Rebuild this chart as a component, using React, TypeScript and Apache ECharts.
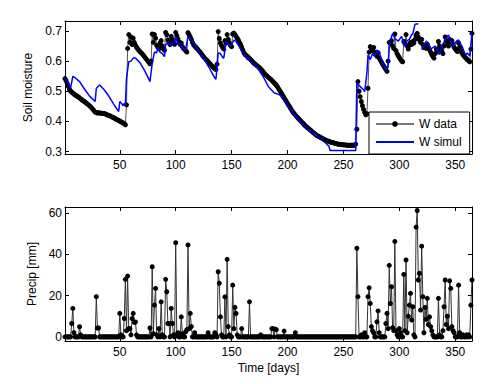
import React, { useEffect, useRef } from "react";
import * as echarts from "echarts";

// ---------- data ----------
const xTicks = [50, 100, 150, 200, 250, 300, 350];
const soilTicks = [0.3, 0.4, 0.5, 0.6, 0.7];
const precipTicks = [0, 20, 40, 60];

// Observed soil moisture, one value per day (day 1..365)
const wData = [
  // 1-55
  0.542, 0.535, 0.526, 0.516, 0.507, 0.501, 0.497, 0.494, 0.491, 0.488,
  0.486, 0.483, 0.481, 0.478, 0.475, 0.472, 0.469, 0.467, 0.464, 0.461,
  0.458, 0.455, 0.452, 0.448, 0.444, 0.440, 0.435, 0.431, 0.429, 0.428,
  0.429, 0.428, 0.427, 0.427, 0.426, 0.426, 0.425, 0.423, 0.421, 0.420,
  0.419, 0.417, 0.415, 0.413, 0.411, 0.409, 0.407, 0.405, 0.403, 0.401,
  0.399, 0.397, 0.395, 0.392, 0.389,
  // 56-78
  0.455, 0.642, 0.688, 0.662, 0.680, 0.655, 0.676, 0.662, 0.653, 0.646,
  0.641, 0.636, 0.632, 0.628, 0.624, 0.620, 0.615, 0.610, 0.606, 0.601,
  0.596, 0.591, 0.600,
  // 79-110
  0.690, 0.662, 0.688, 0.676, 0.652, 0.646, 0.641, 0.660, 0.668, 0.650,
  0.640, 0.636, 0.695, 0.688, 0.670, 0.662, 0.655, 0.682, 0.672, 0.662,
  0.656, 0.695, 0.684, 0.674, 0.664, 0.656, 0.660, 0.648, 0.642, 0.638,
  0.634, 0.630,
  // 111-137
  0.694, 0.688, 0.680, 0.672, 0.662, 0.654, 0.650, 0.646, 0.642, 0.638,
  0.633, 0.629, 0.624, 0.619, 0.614, 0.610, 0.606, 0.602, 0.598, 0.594,
  0.590, 0.586, 0.582, 0.578, 0.575, 0.572, 0.590,
  // 138-155
  0.698, 0.675, 0.660, 0.652, 0.645, 0.640, 0.668, 0.660, 0.688, 0.672,
  0.660, 0.652, 0.648, 0.690, 0.693, 0.688, 0.682, 0.676,
  // 156-260
  0.670, 0.662, 0.655, 0.646, 0.637, 0.628, 0.622, 0.619, 0.616, 0.612,
  0.609, 0.605, 0.601, 0.597, 0.593, 0.590, 0.587, 0.584, 0.581, 0.578,
  0.574, 0.570, 0.566, 0.561, 0.556, 0.553, 0.549, 0.546, 0.543, 0.540,
  0.536, 0.532, 0.528, 0.524, 0.520, 0.515, 0.509, 0.503, 0.497, 0.491,
  0.485, 0.478, 0.472, 0.466, 0.460, 0.454, 0.448, 0.442, 0.436, 0.430,
  0.426, 0.421, 0.417, 0.413, 0.409, 0.405, 0.401, 0.397, 0.393, 0.389,
  0.385, 0.382, 0.379, 0.376, 0.373, 0.370, 0.366, 0.363, 0.360, 0.357,
  0.354, 0.352, 0.350, 0.348, 0.346, 0.344, 0.342, 0.340, 0.338, 0.336,
  0.335, 0.334, 0.332, 0.331, 0.330, 0.329, 0.328, 0.327, 0.326, 0.325,
  0.324, 0.324, 0.323, 0.323, 0.322, 0.322, 0.322, 0.321, 0.321, 0.321,
  0.321, 0.321, 0.321, 0.321, 0.321,
  // 261-272
  0.325, 0.374, 0.532, 0.500, 0.482, 0.466, 0.452, 0.440, 0.430, 0.422,
  0.425, 0.510,
  // 273-365
  0.630, 0.648, 0.642, 0.635, 0.645, 0.630, 0.622, 0.616, 0.628, 0.610,
  0.603, 0.597, 0.590, 0.584, 0.578, 0.572, 0.566, 0.600, 0.662, 0.660,
  0.668, 0.650, 0.642, 0.690, 0.635, 0.625, 0.618, 0.612, 0.606, 0.600,
  0.598, 0.665, 0.658, 0.688, 0.650, 0.640, 0.652, 0.662, 0.655, 0.665,
  0.660, 0.672, 0.685, 0.692, 0.680, 0.670, 0.662, 0.672, 0.655, 0.645,
  0.650, 0.642, 0.655, 0.645, 0.638, 0.630, 0.622, 0.615, 0.610, 0.625,
  0.640, 0.630, 0.665, 0.650, 0.640, 0.632, 0.625, 0.650, 0.680, 0.668,
  0.658, 0.650, 0.672, 0.665, 0.668, 0.655, 0.646, 0.640, 0.636, 0.632,
  0.660, 0.645, 0.635, 0.627, 0.621, 0.616, 0.612, 0.608, 0.604, 0.601,
  0.598, 0.640, 0.692,
];

// Simulated soil moisture: line vertices (day, value); null = missing
const wSimulDays = [
  1, 6, 8, 10, 14, 18, 23, 28, 29, 32, 36, 40, 45, 49, 50, 52, 53, 54, 55, 56,
  58, 60, 62, 64, 68, 72, 76, 77, 79, 81, 83, 84, 86, 88, 90, 91, 93, 95, 97, 99,
  100, 102, 104, 106, 108, 109, 111, 113, 118, 124, 130, 134, 136, 138, 140, 142, 143, 145, 147, 149,
  150, 152, 154, 160, 164, 166, 170, 173, 178, 183, 188, 193, 197, 202, 206, 211, 216, 220, 225, 229,
  235, 237, 238, 261, 262, 264, 266, 268, 269, 271, 272, 274, 276, 278, 280, 282, 285, 288, 290, 291,
  293, 294, 296, 299, 302, 305, 307, 309, 311, 312, 314, 317, 318, 320, 322, 324, 326, 328, 330, 332,
  334, 336, 338, 342, 344, 346, 348, 351, 353, 356, 359, 361, 363, 365,
];
const wSimulValues = [
  0.544, 0.511, 0.549, 0.545, 0.532, 0.510, 0.484, 0.466, 0.510, 0.521, 0.505, 0.485, 0.455, 0.433, 0.466, 0.458, 0.452, 0.460, 0.455, 0.543,
  0.598, 0.600, 0.610, 0.610, 0.595, 0.570, 0.540, 0.532, 0.593, 0.630, 0.628, 0.645, 0.630, 0.625, 0.615, 0.655, 0.660, 0.650, 0.660, 0.660,
  0.682, 0.655, 0.660, 0.645, 0.637, 0.640, 0.682, 0.675, 0.650, 0.615, 0.578, 0.550, 0.540, 0.627, 0.625, 0.612, 0.610, 0.662, 0.655, 0.650,
  0.655, 0.670, 0.665, 0.630, 0.605, 0.610, 0.590, 0.578, 0.550, 0.515, 0.495, 0.488, 0.470, 0.445, 0.423, 0.400, 0.383, 0.367, 0.355, 0.345,
  0.325, 0.318, 0.304, 0.304, 0.532, 0.520, 0.512, 0.505, 0.499, 0.560, 0.620, 0.605, 0.625, 0.615, 0.637, 0.630, 0.595, 0.571, 0.580, 0.649,
  0.680, 0.692, 0.675, 0.666, 0.682, 0.649, 0.668, 0.672, 0.688, 0.690, 0.722, 0.724, null, 0.638, 0.650, 0.666, 0.660, 0.640, 0.645, 0.650,
  0.635, 0.622, 0.650, 0.677, 0.687, 0.665, 0.650, 0.666, 0.670, 0.650, 0.622, 0.626, 0.617, 0.693,
];

// Daily precipitation: days with rain and amount (mm); all other days 0
const rainDays = [
  7, 8, 9, 14, 15, 29, 30, 31, 50, 51, 54, 55, 56, 57, 58, 59, 60, 61, 62, 63,
  64, 65, 77, 79, 80, 81, 82, 83, 85, 87, 88, 91, 92, 93, 94, 96, 97, 98, 100, 101,
  102, 105, 106, 109, 110, 111, 112, 113, 114, 117, 129, 135, 136, 138, 139, 140, 141, 144, 146, 147,
  148, 151, 152, 153, 154, 155, 159, 166, 176, 186, 187, 189, 190, 197, 207, 262, 263, 266, 269, 272,
  273, 274, 275, 276, 277, 280, 281, 282, 288, 289, 290, 291, 292, 293, 294, 295, 296, 297, 298, 300,
  301, 304, 305, 306, 307, 308, 309, 310, 311, 312, 313, 315, 316, 317, 318, 319, 320, 321, 322, 323,
  324, 325, 326, 327, 328, 329, 330, 335, 336, 339, 340, 341, 342, 343, 344, 345, 346, 347, 348, 349,
  353, 354, 357, 360, 362, 364, 365,
];
const rainMm = [
  6.5, 13.8, 2, 4.9, 1, 19.5, 4.3, 4.3, 11.4, 1, 8.9, 27.9, 3, 29.5, 4, 4, 1, 8.9, 11.4, 7,
  7.2, 1, 4.3, 34, 1.5, 15.4, 23.5, 1, 4, 17, 1, 27.9, 21.9, 6.5, 6.5, 13.8, 6.5, 1, 45.7, 1,
  2, 9.7, 1.5, 2.5, 3.5, 44.6, 4, 11.4, 5, 2, 2, 2, 1, 31.6, 26, 9.7, 1, 19.4, 37.6, 5,
  1, 25.1, 4, 14.3, 11.4, 1, 4, 17, 1, 4, 4, 3.8, 3.5, 2.8, 2, 43, 19.5, 1, 2, 19.5,
  23.8, 16.2, 5, 3, 2, 7.3, 12.6, 2, 6.5, 11.4, 4, 34.7, 16.2, 24.3, 4.5, 3, 46.3, 3, 1, 4,
  2, 30.3, 3, 37.3, 2, 10, 15.4, 21.1, 8.2, 14.6, 1, 53.2, 61.3, 27.6, 30.8, 13, 44, 19.5, 2, 14.3,
  8.5, 18.7, 6, 9.7, 5, 3, 1, 18.7, 1, 3, 14.6, 27.6, 6, 10, 4, 27.2, 23.5, 5, 3, 2,
  25.1, 2, 1, 1, 1, 15.4, 27.6,
];

const DAY_COUNT = 365;

// ---------- chart ----------
const FONT = "'Liberation Sans', Arial, Helvetica, sans-serif";
const BLACK = "#000";

function xAxisPair(gridIndex: number) {
  const common = {
    gridIndex,
    type: "value",
    min: 1,
    max: DAY_COUNT,
    splitLine: { show: false },
    axisLine: { show: true, onZero: false, lineStyle: { color: BLACK, width: 1 } },
    axisTick: { show: true, inside: true, length: 4, customValues: xTicks, lineStyle: { color: BLACK } },
  };
  return [
    {
      ...common,
      position: "bottom",
      axisLabel: { show: true, customValues: xTicks, color: BLACK, fontSize: 12, fontFamily: FONT, margin: 5 },
      ...(gridIndex === 1
        ? {
            name: "Time [days]",
            nameLocation: "middle",
            nameGap: 21,
            nameTextStyle: { color: BLACK, fontSize: 12, fontFamily: FONT },
          }
        : {}),
    },
    { ...common, position: "top", axisLabel: { show: false } },
  ];
}

function yAxisPair(gridIndex: number, min: number, max: number, ticks: number[], name: string, gap: number, dec: number) {
  const common = {
    gridIndex,
    type: "value",
    min,
    max,
    splitLine: { show: false },
    axisLine: { show: true, onZero: false, lineStyle: { color: BLACK, width: 1 } },
    axisTick: { show: true, inside: true, length: 4, customValues: ticks, lineStyle: { color: BLACK } },
  };
  return [
    {
      ...common,
      position: "left",
      axisLabel: {
        show: true,
        customValues: ticks,
        color: BLACK,
        fontSize: 12,
        fontFamily: FONT,
        margin: 3,
        formatter: (v: number) => v.toFixed(dec),
      },
      name,
      nameLocation: "middle",
      nameGap: gap,
      nameTextStyle: { color: BLACK, fontSize: 12, fontFamily: FONT },
    },
    { ...common, position: "right", axisLabel: { show: false } },
  ];
}

export default function App() {
  const ref = useRef<HTMLDivElement>(null);

  useEffect(() => {
    if (!ref.current) return;
    const chart = echarts.init(ref.current, undefined, { renderer: "svg" });

    const wDataPoints = wData.map((v, i) => [i + 1, v]);
    const wSimulPoints = wSimulDays.map((d, i) => [d, wSimulValues[i] === null ? "-" : wSimulValues[i]]);
    const precipPoints = Array.from({ length: DAY_COUNT }, (_, i) => {
      const k = rainDays.indexOf(i + 1);
      return [i + 1, k >= 0 ? rainMm[k] : 0];
    });

    chart.setOption({
      animation: false,
      backgroundColor: "#fff",
      textStyle: { fontFamily: FONT },
      grid: [
        { left: 65, top: 21, width: 407, height: 133, containLabel: false },
        { left: 65, top: 207, width: 407, height: 134, containLabel: false },
      ],
      xAxis: [...xAxisPair(0), ...xAxisPair(1)],
      yAxis: [
        ...yAxisPair(0, 0.292, 0.733, soilTicks, "Soil moisture", 27, 1),
        ...yAxisPair(1, -2, 63, precipTicks, "Precip [mm]", 25, 0),
      ],
      legend: {
        data: [
          { name: "W data", lineStyle: { color: "#777", width: 2 } },
          { name: "W simul", itemStyle: { color: "rgba(0,0,0,0)", borderWidth: 0 }, lineStyle: { color: "#0000ff", width: 2 } },
        ],
        orient: "vertical",
        left: 369,
        top: 112,
        padding: [6, 8, 6, 6],
        itemGap: 6,
        itemWidth: 38,
        itemHeight: 7,
        backgroundColor: "#fff",
        borderColor: BLACK,
        borderWidth: 1,
        borderRadius: 0,
        textStyle: { color: BLACK, fontSize: 12, fontFamily: FONT },
      },
      series: [
        {
          name: "W data",
          type: "line",
          xAxisIndex: 0,
          yAxisIndex: 0,
          data: wDataPoints,
          symbol: "circle",
          symbolSize: 5,
          showSymbol: true,
          itemStyle: { color: BLACK },
          lineStyle: { color: "#555", width: 1 },
          z: 2,
        },
        {
          name: "W simul",
          type: "line",
          xAxisIndex: 0,
          yAxisIndex: 0,
          data: wSimulPoints,
          symbol: "none",
          connectNulls: false,
          itemStyle: { color: "#0000ff" },
          lineStyle: { color: "#0000ff", width: 1.5 },
          z: 3,
        },
        {
          name: "Precip",
          type: "line",
          xAxisIndex: 2,
          yAxisIndex: 2,
          data: precipPoints,
          symbol: "circle",
          symbolSize: 5,
          showSymbol: true,
          itemStyle: { color: BLACK },
          lineStyle: { color: "#333", width: 1 },
        },
      ],
    });

    return () => chart.dispose();
  }, []);

  return (
    <div
      ref={ref}
      style={{ position: "fixed", left: 0, top: 0, width: 498, height: 384, background: "#fff" }}
    />
  );
}
